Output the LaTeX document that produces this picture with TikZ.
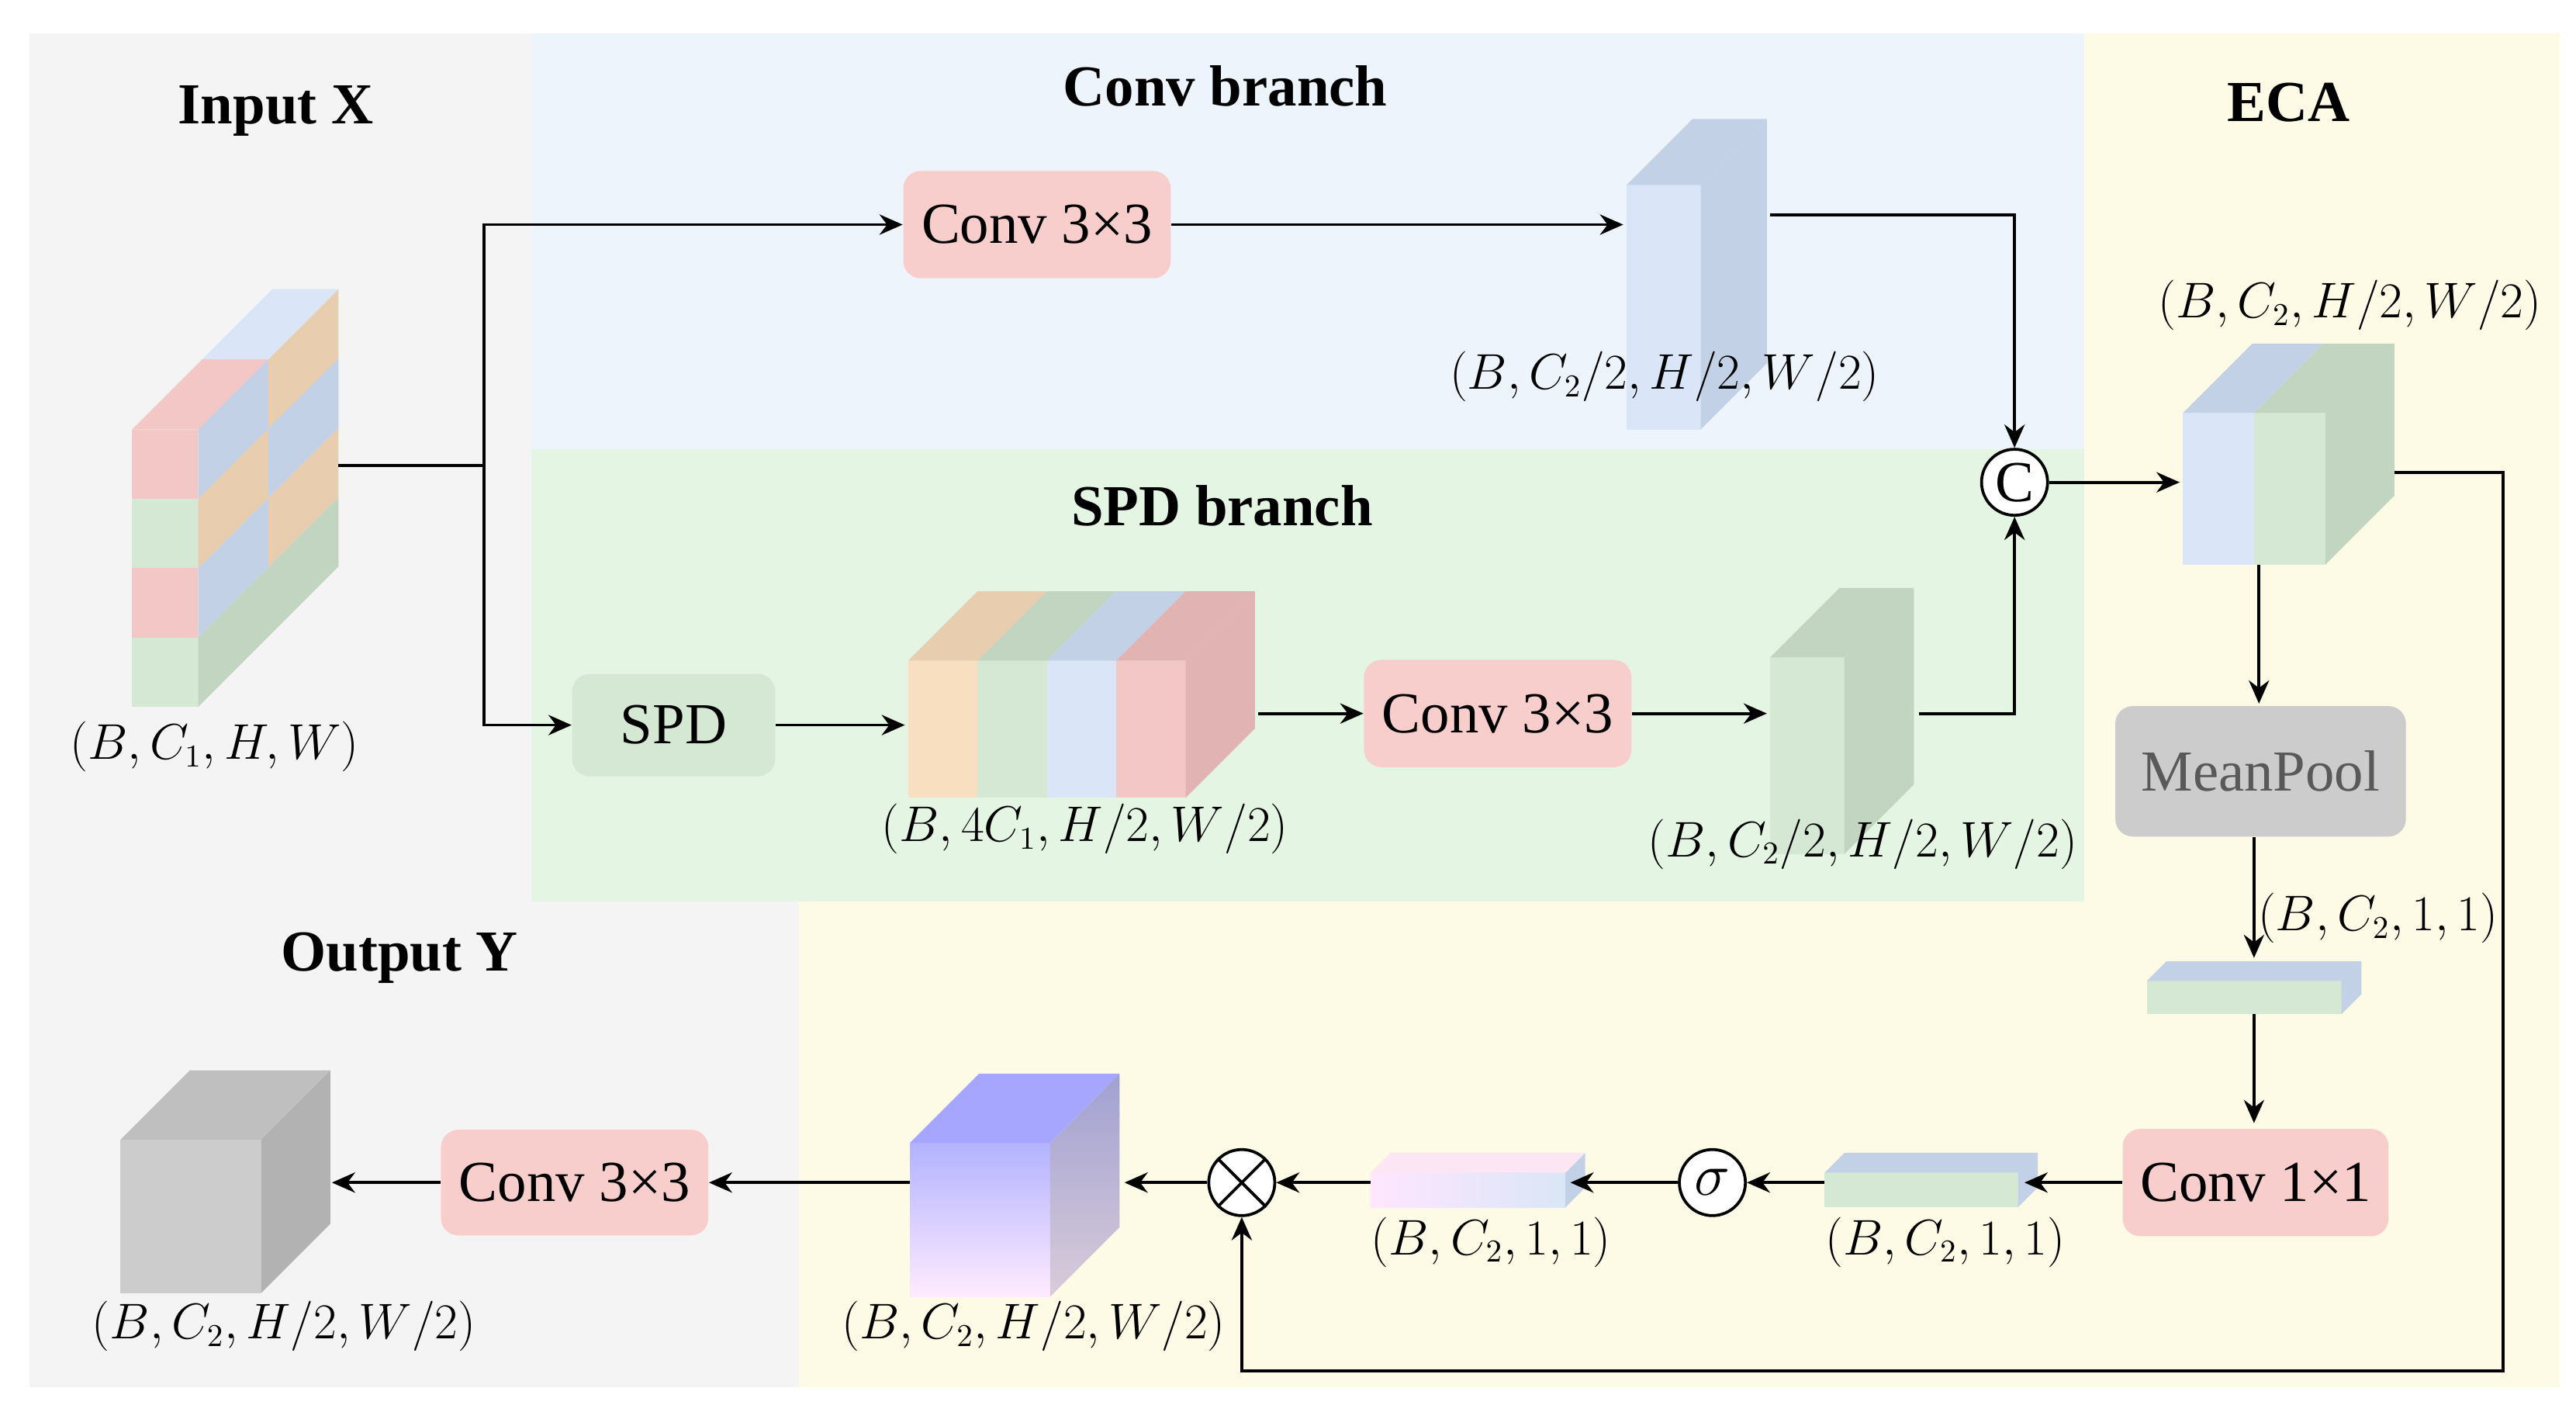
\documentclass[tikz,border=0pt]{standalone}
\usepackage{fontspec}
\setmainfont{Liberation Serif}
\usetikzlibrary{arrows.meta}
\begin{document}
\begin{tikzpicture}[x=0.02cm,y=-0.02cm,
  box/.style={rounded corners=6pt,draw=none,font=\fontsize{20}{22}\selectfont,inner sep=0pt},
  arr/.style={-{Stealth[length=8pt,width=7pt]},line width=1pt},
  ln/.style={line width=1pt},
  lab/.style={font=\fontsize{16}{18}\selectfont},
  ttl/.style={font=\bfseries\fontsize{20}{22}\selectfont},
  circ/.style={circle,draw,line width=1pt,minimum size=0.8cm,inner sep=0pt,fill=white}]
\definecolor{rF}{HTML}{F4C7C7}\definecolor{rS}{HTML}{E2B3B3}
\definecolor{gF}{HTML}{D5E8D4}\definecolor{gS}{HTML}{C1D5C0}
\definecolor{bF}{HTML}{DAE6F7}\definecolor{bS}{HTML}{C3D1E6}
\definecolor{oF}{HTML}{F8DFC0}\definecolor{oS}{HTML}{E8CDAE}
\definecolor{boxR}{HTML}{F8CECC}\definecolor{boxG}{HTML}{D5E8D4}
\definecolor{bgB}{HTML}{EEF4FC}\definecolor{bgG}{HTML}{E4F5E3}
\definecolor{bgY}{HTML}{FDFBE5}\definecolor{bgK}{HTML}{F4F4F4}
\useasboundingbox (0,0) rectangle (1560,859);
\fill[white] (0,0) rectangle (1560,859);
% backgrounds
\fill[bgK] (18,20) rectangle (484,840);
\fill[bgK] (18,20) rectangle (322,546);
\fill[bgB] (322,20) rectangle (1262,272);
\fill[bgG] (322,272) rectangle (1262,546);
\fill[bgY] (1262,20) rectangle (1550,840);
\fill[bgY] (484,546) rectangle (1262,840);
% helpers
\newcommand\frontcell[5]{\fill[#5] (#1,#2) rectangle (#3,#4);}
\newcommand\sidecell[7]{\fill[#7] ({#1+#3*#2},{#5-#3*#2}) -- ({#1+#4*#2},{#5-#4*#2}) -- ({#1+#4*#2},{#6-#4*#2}) -- ({#1+#3*#2},{#6-#3*#2}) -- cycle;}
\newcommand\topcell[7]{\fill[#7] ({#1+#5*#4},{#3-#5*#4}) -- ({#1+#6*#4},{#3-#6*#4}) -- ({#2+#6*#4},{#3-#6*#4}) -- ({#2+#5*#4},{#3-#5*#4}) -- cycle;}
\newcommand\simplecube[8]{\frontcell{#1}{#2}{#3}{#4}{#6}\sidecell{#3}{#5}{0}{1}{#2}{#4}{#7}\topcell{#1}{#3}{#2}{#5}{0}{1}{#8}}
% Titles
\node[ttl] (tin) at (167,67) {Input X};
\node[ttl] (tconv) at (742,52) {Conv branch};
\node[ttl] (tspd) at (740,306) {SPD branch};
\node[ttl] (teca) at (1386,62) {ECA};
\node[ttl] (tout) at (242,580) {Output Y};
% Input cube
\frontcell{80}{260}{120}{302}{rF}\frontcell{80}{302}{120}{344}{gF}
\frontcell{80}{344}{120}{386}{rF}\frontcell{80}{386}{120}{428}{gF}
\sidecell{120}{85}{0}{0.5}{260}{302}{bS}\sidecell{120}{85}{0.5}{1}{260}{302}{oS}
\sidecell{120}{85}{0}{0.5}{302}{344}{oS}\sidecell{120}{85}{0.5}{1}{302}{344}{bS}
\sidecell{120}{85}{0}{0.5}{344}{386}{bS}\sidecell{120}{85}{0.5}{1}{344}{386}{oS}
\sidecell{120}{85}{0}{0.5}{386}{428}{gS}\sidecell{120}{85}{0.5}{1}{386}{428}{gS}
\topcell{80}{120}{260}{85}{0}{0.5}{rF}\topcell{80}{120}{260}{85}{0.5}{1}{bF}
\node[lab] (lin) at (130,452) {$(B,C_1,H,W)$};
% conv branch cube
\simplecube{985}{112}{1030}{260}{40}{bF}{bS}{bS}
\node[lab] (lconv) at (1008,228) {$(B,C_2/2,H/2,W/2)$};
% SPD 4C1 cube
\frontcell{550}{400}{592}{483}{oF}\frontcell{592}{400}{634}{483}{gF}
\frontcell{634}{400}{676}{483}{bF}\frontcell{676}{400}{718}{483}{rF}
\topcell{550}{592}{400}{42}{0}{1}{oS}\topcell{592}{634}{400}{42}{0}{1}{gS}
\topcell{634}{676}{400}{42}{0}{1}{bS}\topcell{676}{718}{400}{42}{0}{1}{rS}
\sidecell{718}{42}{0}{1}{400}{483}{rS}
\node[lab] (l4c) at (657,502) {$(B,4C_1,H/2,W/2)$};
% SPD out cube
\simplecube{1072}{398}{1117}{517}{42}{gF}{gS}{gS}
\node[lab] (lspd) at (1128,511) {$(B,C_2/2,H/2,W/2)$};
% ECA cube
\frontcell{1322}{250}{1365}{342}{bF}\frontcell{1365}{250}{1408}{342}{gF}
\topcell{1322}{1365}{250}{42}{0}{1}{bS}\topcell{1365}{1408}{250}{42}{0}{1}{gS}
\sidecell{1408}{42}{0}{1}{250}{342}{gS}
\node[lab] (leca) at (1423,185) {$(B,C_2,H/2,W/2)$};
% bars
\simplecube{1300}{594}{1418}{614}{12}{gF}{bS}{bS}
\node[lab] (lmp) at (1440,556) {$(B,C_2,1,1)$};
\simplecube{1105}{710}{1222}{731}{12}{gF}{bS}{bS}
\node[lab] (lc1) at (1178,752) {$(B,C_2,1,1)$};
\shade[left color=magenta!10,right color=bF] (830,710) rectangle (948,731);
\sidecell{948}{12}{0}{1}{710}{731}{bS}\topcell{830}{948}{710}{12}{0}{1}{magenta!10}
\node[lab] (lsg) at (903,752) {$(B,C_2,1,1)$};
% purple cube
\shade[top color=blue!30!white,bottom color=magenta!8] (551,692) rectangle (636,785);
\shade[top color=blue!35!gray!55,bottom color=magenta!15!gray!35] (636,692) -- (678,650) -- (678,743) -- (636,785) -- cycle;
\topcell{551}{636}{692}{42}{0}{1}{blue!35!white}
\node[lab] (lpu) at (626,803) {$(B,C_2,H/2,W/2)$};
% gray cube
\simplecube{73}{690}{158}{783}{42}{black!20}{black!30}{black!25}
\node[lab] (lgr) at (172,803) {$(B,C_2,H/2,W/2)$};
% boxes
\node[box,fill=boxR,minimum width=3.24cm,minimum height=1.3cm] (conv1) at (628,136) {Conv 3×3};
\node[box,fill=boxG,minimum width=2.46cm,minimum height=1.24cm] (spd) at (408,439) {SPD};
\node[box,fill=boxR,minimum width=3.24cm,minimum height=1.3cm] (conv2) at (907,432) {Conv 3×3};
\node[box,fill=black!20,text=black!65,minimum width=3.52cm,minimum height=1.58cm] (mp) at (1369,467) {MeanPool};
\node[box,fill=boxR,minimum width=3.22cm,minimum height=1.3cm] (c11) at (1366,716) {Conv 1×1};
\node[box,fill=boxR,minimum width=3.24cm,minimum height=1.28cm] (conv3) at (348,716) {Conv 3×3};
% circles
\node[circ,font=\fontsize{20}{22}\selectfont] (cat) at (1220,292) {C};
\node[circ,font=\fontsize{20}{22}\selectfont] (sig) at (1037,716) {$\sigma$};
\node[circ] (mul) at (752,716) {};
\draw[line width=1pt] (mul.45)--(mul.225) (mul.135)--(mul.315);
% connectors
\coordinate (inR) at (205,282); \coordinate (spl) at (293,282);
\draw[ln] (inR)--(spl);
\draw[arr] (spl)|-(conv1.west);
\draw[arr] (spl)|-(spd.west);
\draw[arr] (conv1.east)--(983,136);
\draw[arr] (1072,130)-|(cat.north);
\draw[arr] (spd.east)--(548,439);
\draw[arr] (762,432)--(conv2.west);
\draw[arr] (conv2.east)--(1070,432);
\draw[arr] (1162,432)-|(cat.south);
\draw[arr] (cat.east)--(1320,292);
\draw[arr] (1368,342)--(1368,426);
\draw[arr] (1365,507)--(1365,580);
\draw[arr] (1365,614)--(1365,680);
\draw[arr] (c11.west)--(1226,716);
\draw[arr] (1105,716)--(sig.east);
\draw[arr] (sig.west)--(951,716);
\draw[arr] (830,716)--(mul.east);
\draw[arr] (mul.west)--(681,716);
\draw[arr] (551,716)--(conv3.east);
\draw[arr] (conv3.west)--(201,716);
\draw[arr] (1450,286)--(1516,286)--(1516,830)--(752,830)--(mul.south);
\end{tikzpicture}
\end{document}
